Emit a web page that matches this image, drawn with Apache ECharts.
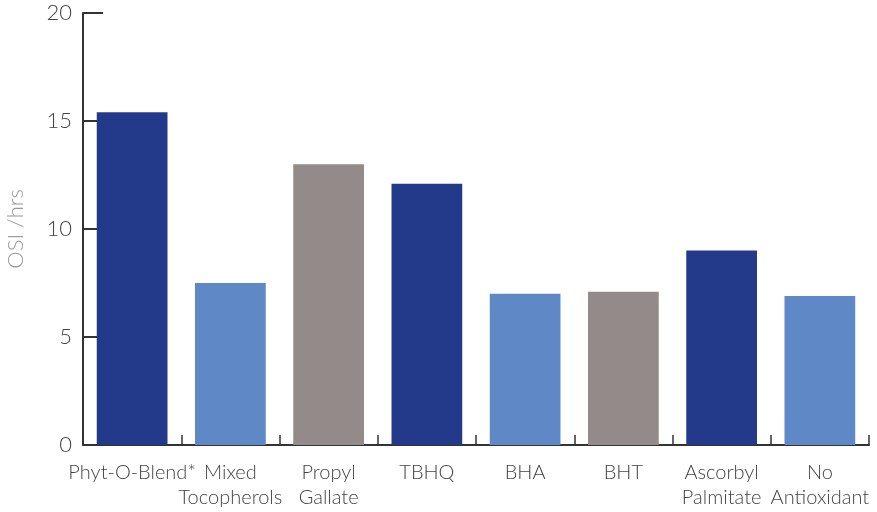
<!DOCTYPE html>
<html><head><meta charset="utf-8">
<script src="https://cdn.jsdelivr.net/npm/echarts@6/dist/echarts.min.js"></script>
<style>html,body{margin:0;padding:0;background:#fff}#c{width:877px;height:512px}</style>
</head><body><div id="c"></div>
<script>
const categories = ['Phyt-O-Blend*', 'Mixed\nTocopherols', 'Propyl\nGallate', 'TBHQ', 'BHA', 'BHT', 'Ascorbyl\nPalmitate', 'No\nAntioxidant'];
const values = [15.4, 7.5, 13.0, 12.1, 7.0, 7.1, 9.0, 6.9];
const colorGroups = ['dark', 'light', 'gray', 'dark', 'light', 'gray', 'dark', 'light'];
const yTicks = [0, 5, 10, 15, 20];
const palette = { dark: '#233a8a', light: '#5f88c6', gray: '#938b89' };

const chart = echarts.init(document.getElementById('c'));
chart.setOption({
  animation: false,
  grid: { left: 83, right: 8, top: 13, bottom: 67, containLabel: false, outerBoundsMode: 'none' },
  xAxis: {
    type: 'category', data: categories,
    axisLine: { lineStyle: { color: '#333', width: 2 } },
    axisTick: { show: true, inside: true, length: 10, alignWithLabel: false, lineStyle: { color: '#333', width: 1.5 } },
    axisLabel: { color: '#444', fontFamily: 'Lato', fontWeight: 300, fontSize: 20, lineHeight: 25, margin: 15, interval: 0 }
  },
  yAxis: {
    type: 'value', min: yTicks[0], max: yTicks[yTicks.length - 1], interval: 5,
    name: 'OSI /hrs', nameLocation: 'middle', nameGap: 56,
    nameTextStyle: { color: '#999', fontFamily: 'Lato', fontWeight: 300, fontSize: 22 },
    axisLine: { show: true, lineStyle: { color: '#333', width: 2 } },
    axisTick: { show: true, inside: true, length: 20, lineStyle: { color: '#333', width: 2 } },
    splitLine: { show: false },
    axisLabel: { color: '#444', fontFamily: 'Lato', fontWeight: 300, fontSize: 22, margin: 11 }
  },
  series: [{
    type: 'bar', barWidth: '72%',
    data: values.map((v, i) => ({ value: v, itemStyle: { color: palette[colorGroups[i]] } }))
  }]
});
</script></body></html>
